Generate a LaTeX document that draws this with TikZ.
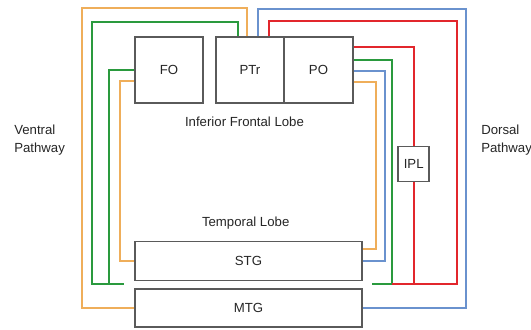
\documentclass[tikz,border=0pt]{standalone}
\usepackage{fontspec}
\setmainfont{Liberation Sans}
\usetikzlibrary{calc}
\definecolor{cor}{HTML}{EFAE5A}
\definecolor{cgr}{HTML}{2A9A3E}
\definecolor{cbl}{HTML}{6A92CE}
\definecolor{crd}{HTML}{E2262C}
\definecolor{cbx}{HTML}{5A5A5A}
\definecolor{ctx}{HTML}{262626}
\begin{document}
\begin{tikzpicture}[x=0.75pt,y=-0.75pt,
  lobe/.style={draw=cbx,line width=1.1pt,fill=white,inner sep=0pt},
  lbl/.style={inner sep=0pt,text=ctx,font=\fontsize{9.9}{13.3}\selectfont},
  path/.style={line width=1.5pt},
  ors/.style={path,draw=cor},
  grs/.style={path,draw=cgr},
  bls/.style={path,draw=cbl},
  rds/.style={path,draw=crd}]
\useasboundingbox (0,0) rectangle (531,329);
\fill[white] (0,0) rectangle (531,329);
% boxes
\node[lobe,minimum width=51pt,minimum height=49.5pt] (FO) at (169,70) {};
\node[lobe,minimum width=51pt,minimum height=49.5pt] (PTr) at (250,70) {};
\node[lobe,minimum width=51.75pt,minimum height=49.5pt] (PO) at (318.5,70) {};
\node[lobe,minimum width=170.25pt,minimum height=28.875pt] (STG) at (248.5,261) {};
\node[lobe,minimum width=170.25pt,minimum height=28.5pt] (MTG) at (248.5,308) {};
\node[lobe,minimum width=23.25pt,minimum height=25.875pt] (IPL) at (413.7,164) {};
% free ends
\coordinate (gL) at (124,283.5);
\coordinate (rb) at (391.7,284);
\coordinate (gR) at (372,284);
% ventral (left) paths
\draw[ors] ($(PTr.north west)+(32,0)$) |- (82,8) |- (MTG.west);
\draw[grs] ($(PTr.north west)+(23,0)$) |- (92,22) |- (gL);
\draw[grs] (FO.west) -| (109.3,283.5);
\draw[ors] ($(FO.west)+(0,11)$) -| ($(STG.west)+(-14,0)$) -- (STG.west);
% dorsal (right) paths
\draw[bls] ($(PTr.north west)+(43,0)$) |- (466,9) |- (MTG.east);
\draw[grs] ($(PO.north east)+(0,24)$) -| (rb) -- (gR);
\draw[rds] ($(PTr.north west)+(54,0)$) |- (457.3,21) |- (rb);
\draw[rds] ($(PO.north east)+(0,11)$) -| (IPL.north);
\draw[rds] (IPL.south) |- (rb);
\draw[bls] ($(PO.north east)+(0,35)$) -| ($(STG.east)+(22.3,0)$) -- (STG.east);
\draw[ors] ($(PO.north east)+(0,46)$) -| ($(STG.east)+(13.3,-11.7)$) -- ($(STG.east)+(0,-11.7)$);
% labels in boxes
\node[lbl] at (FO.center) {FO};
\node[lbl] at (PTr.center) {PTr};
\node[lbl] at (PO.center) {PO};
\node[lbl] at (STG.center) {STG};
\node[lbl] at (MTG.center) {MTG};
\node[lbl] at (IPL.center) {IPL};
% free texts
\node[lbl,anchor=base] (ifl) at (244.5,126.5) {Inferior Frontal Lobe};
\node[lbl,anchor=base] (tl) at (245.7,226.7) {Temporal Lobe};
\node[lbl,anchor=north west,align=left] (vp) at (14,125) {Ventral\\Pathway};
\node[lbl,anchor=north west,align=left] (dp) at (481,125) {Dorsal\\Pathway};
\end{tikzpicture}
\end{document}
